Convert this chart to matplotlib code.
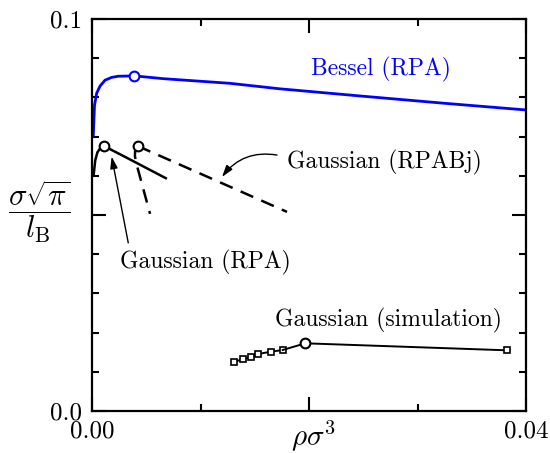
import matplotlib
matplotlib.use("Agg")
import matplotlib.pyplot as plt
from matplotlib.ticker import FixedLocator, FixedFormatter

plt.rcParams['font.family'] = 'serif'
plt.rcParams['font.serif'] = ['cmr10', 'DejaVu Serif']
plt.rcParams['mathtext.fontset'] = 'cm'
plt.rcParams['axes.formatter.use_mathtext'] = True

# Bessel (RPA)
bessel_x = [0.00012, 0.00023, 0.00043, 0.00074, 0.0012, 0.0018, 0.0024, 0.0039,
            0.0065, 0.0127, 0.0173, 0.025, 0.0325, 0.04]
bessel_y = [0.0704, 0.0780, 0.0811, 0.0829, 0.0844, 0.0851, 0.0854, 0.0855,
            0.0848, 0.0836, 0.0822, 0.0803, 0.0785, 0.0768]
bessel_pt = (0.0039, 0.0855)

# Gaussian (RPA)
grpa_x = [0.00015, 0.0003, 0.0005, 0.0008, 0.0011, 0.0030, 0.0050, 0.0068]
grpa_y = [0.0602, 0.0640, 0.0660, 0.0672, 0.0676, 0.0649, 0.0620, 0.0594]
grpa_pt = (0.0011, 0.0676)

# Gaussian (RPABj) two dashed branches
gbj1_x = [0.00421, 0.01797]
gbj1_y = [0.0676, 0.0508]
gbj2_x = [0.00421, 0.00398, 0.00395, 0.0042, 0.00535]
gbj2_y = [0.0676, 0.0665, 0.0650, 0.0620, 0.0503]
gbj_pt = (0.00421, 0.0676)

# Gaussian (simulation)
sim_x = [0.01312, 0.01389, 0.01463, 0.01533, 0.01647, 0.01757, 0.01966, 0.03828]
sim_y = [0.01258, 0.01319, 0.01378, 0.01454, 0.01513, 0.01556, 0.01727, 0.01548]
sim_pt = (0.01966, 0.01727)

fig = plt.figure(figsize=(5.5, 4.53), dpi=100)
ax = fig.add_axes([0.1673, 0.0927, 0.7891, 0.8653])

ax.plot(bessel_x, bessel_y, color='#0000ff', lw=2.0)
ax.plot([bessel_pt[0]], [bessel_pt[1]], 'o', ms=7, mfc='white', mec='#0000ff', mew=1.5)

ax.plot(grpa_x, grpa_y, color='black', lw=1.8)
ax.plot([grpa_pt[0]], [grpa_pt[1]], 'o', ms=7, mfc='white', mec='black', mew=1.5)

ax.plot(gbj1_x, gbj1_y, color='black', lw=1.8, dashes=(5.5, 3.5))
ax.plot(gbj2_x, gbj2_y, color='black', lw=1.8, dashes=(5.5, 3.5))
ax.plot([gbj_pt[0]], [gbj_pt[1]], 'o', ms=7, mfc='white', mec='black', mew=1.5)

ax.plot(sim_x[:6], sim_y[:6], color='black', lw=1.4, marker='s', ms=4,
        mfc='white', mec='black', mew=1.2)
ax.plot(sim_x[5:], sim_y[5:], color='black', lw=1.4)
ax.plot([sim_x[-1]], [sim_y[-1]], 's', ms=4, mfc='white', mec='black', mew=1.2)
ax.plot([sim_pt[0]], [sim_pt[1]], 'o', ms=7, mfc='white', mec='black', mew=1.5)

ax.set_xlim(0, 0.04)
ax.set_ylim(0, 0.1)

ax.xaxis.set_major_locator(FixedLocator([0, 0.02, 0.04]))
ax.xaxis.set_major_formatter(FixedFormatter(['0.00', '', '0.04']))
ax.xaxis.set_minor_locator(FixedLocator([0.01, 0.03]))
ax.yaxis.set_major_locator(FixedLocator([0, 0.05, 0.1]))
ax.yaxis.set_major_formatter(FixedFormatter(['0.0', '', '0.1']))
ax.yaxis.set_minor_locator(FixedLocator([0.01, 0.02, 0.03, 0.04, 0.06, 0.07, 0.08, 0.09]))

ax.tick_params(which='both', direction='in', top=True, right=True, width=1.5, labelsize=18)
ax.tick_params(which='major', length=10, pad=7)
ax.tick_params(which='minor', length=5)
for s in ax.spines.values():
    s.set_linewidth(1.6)

ax.text(0.509, -0.062, r'$\rho\sigma^3$', transform=ax.transAxes, ha='center', va='center', fontsize=21)
ax.text(-0.122, 0.508, r'$\dfrac{\sigma\sqrt{\pi}}{l_{\rm B}}$', transform=ax.transAxes,
        ha='center', va='center', fontsize=22)

ax.text(0.02664, 0.08724, 'Bessel (RPA)', color='#0000ff', ha='center', va='center', fontsize=17)
ax.text(0.02691, 0.0635, 'Gaussian (RPABj)', ha='center', va='center', fontsize=17)
ax.text(0.01041, 0.0380, 'Gaussian (RPA)', ha='center', va='center', fontsize=17)
ax.text(0.02728, 0.02304, 'Gaussian (simulation)', ha='center', va='center', fontsize=17)

ax.annotate('', xy=(0.01198, 0.0597), xytext=(0.01705, 0.0653),
            arrowprops=dict(arrowstyle='-|>,head_length=0.7,head_width=0.22', color='black',
                            lw=1.0, connectionstyle='arc3,rad=0.3', shrinkA=0, shrinkB=0))
ax.annotate('', xy=(0.00181, 0.0649), xytext=(0.00334, 0.0429),
            arrowprops=dict(arrowstyle='-|>,head_length=0.7,head_width=0.22', color='black',
                            lw=1.0, shrinkA=0, shrinkB=0))

fig.savefig('out.png', dpi=100)
